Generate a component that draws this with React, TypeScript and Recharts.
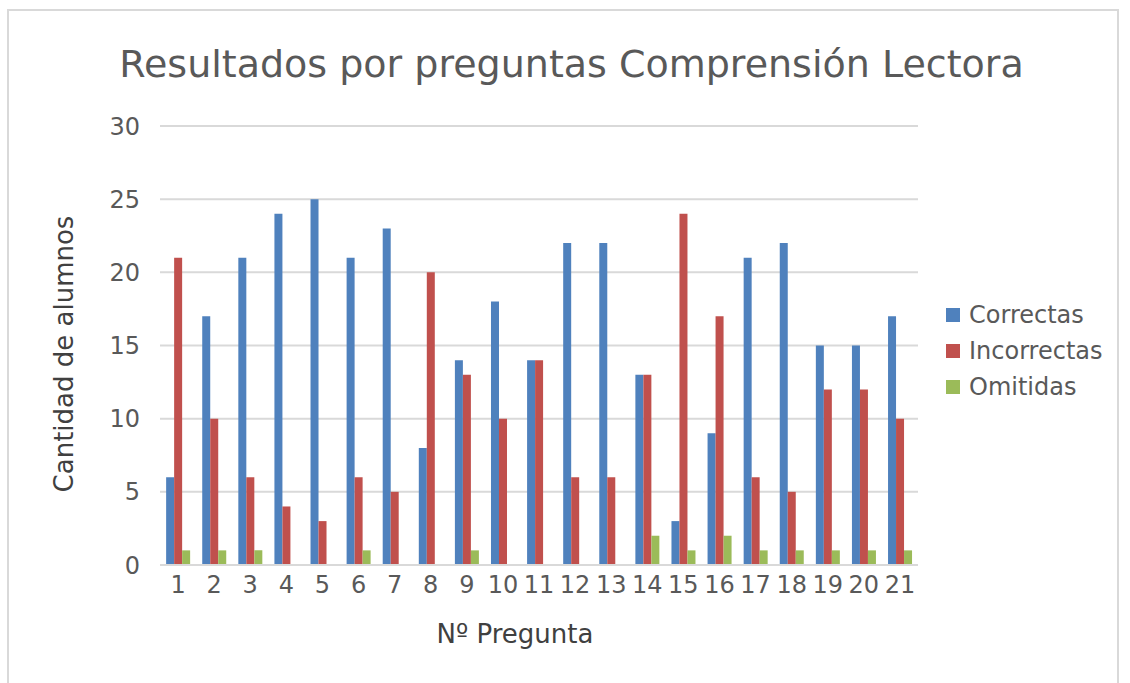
import React from 'react';
import { BarChart, Bar, XAxis, YAxis, CartesianGrid, Legend } from 'recharts';

const preguntas = ['1', '2', '3', '4', '5', '6', '7', '8', '9', '10', '11', '12', '13', '14', '15', '16', '17', '18', '19', '20', '21'];
const correctas = [6, 17, 21, 24, 25, 21, 23, 8, 14, 18, 14, 22, 22, 13, 3, 9, 21, 22, 15, 15, 17];
const incorrectas = [21, 10, 6, 4, 3, 6, 5, 20, 13, 10, 14, 6, 6, 13, 24, 17, 6, 5, 12, 12, 10];
const omitidas = [1, 1, 1, 0, 0, 1, 0, 0, 1, 0, 0, 0, 0, 2, 1, 2, 1, 1, 1, 1, 1];
const yTicks = [0, 5, 10, 15, 20, 25, 30];

const series = [
  { key: 'correctas', name: 'Correctas', color: '#4f81bd' },
  { key: 'incorrectas', name: 'Incorrectas', color: '#c0504d' },
  { key: 'omitidas', name: 'Omitidas', color: '#9bbb59' },
];

const FONT = '"DejaVu Sans", sans-serif';

export default function App() {
  const data = preguntas.map((p, i) => ({
    pregunta: p,
    correctas: correctas[i],
    incorrectas: incorrectas[i],
    omitidas: omitidas[i],
  }));

  // legend on the right, squares + names
  const renderLegend = () => (
    <div style={{ fontFamily: FONT }}>
      {series.map((s) => (
        <div key={s.key} style={{ display: 'flex', alignItems: 'center', height: 36 }}>
          <span style={{ width: 14, height: 14, background: s.color, marginRight: 9, display: 'inline-block' }} />
          <span style={{ fontSize: 24, color: '#595959' }}>{s.name}</span>
        </div>
      ))}
    </div>
  );

  return (
    <div style={{ position: 'absolute', left: 0, top: 0, width: 1130, height: 683, background: '#fff', overflow: 'hidden', fontFamily: FONT }}>
      <div style={{ position: 'absolute', left: 7, top: 9, width: 1112, height: 700, border: '2px solid #d9d9d9', boxSizing: 'border-box' }} />
      <div style={{ position: 'absolute', left: 0, top: 42, width: 1143, textAlign: 'center', fontSize: 38, color: '#595959' }}>
        Resultados por preguntas Comprensión Lectora
      </div>
      <div style={{ position: 'absolute', left: 0, top: 619, width: 1030, textAlign: 'center', fontSize: 26, color: '#404040' }}>
        Nº Pregunta
      </div>
      <div
        style={{
          position: 'absolute',
          left: 64,
          top: 354,
          transform: 'translate(-50%, -50%) rotate(-90deg)',
          whiteSpace: 'nowrap',
          fontSize: 26,
          color: '#404040',
        }}
      >
        Cantidad de alumnos
      </div>
      <BarChart
        width={1130}
        height={683}
        data={data}
        margin={{ top: 126, right: 212, bottom: 78, left: 100 }}
        barCategoryGap="17%"
        barGap={0}
        style={{ position: 'absolute', left: 0, top: 0 }}
      >
        <CartesianGrid vertical={false} stroke="#d9d9d9" strokeWidth={2} />
        <XAxis
          dataKey="pregunta"
          height={40}
          tickLine={false}
          axisLine={{ stroke: '#d9d9d9', strokeWidth: 2 }}
          tick={{ fontSize: 24, fill: '#595959', fontFamily: FONT }}
          tickMargin={5}
          interval={0}
        />
        <YAxis
          width={60}
          domain={[0, 30]}
          ticks={yTicks}
          tickLine={false}
          axisLine={false}
          tick={{ fontSize: 24, fill: '#595959', fontFamily: FONT }}
          tickMargin={14}
        />
        <Legend
          layout="horizontal"
          verticalAlign="top"
          align="left"
          content={renderLegend}
          wrapperStyle={{ left: 946, top: 297, width: 180, height: 0 }}
        />
        {series.map((s) => (
          <Bar key={s.key} dataKey={s.key} name={s.name} fill={s.color} isAnimationActive={false} />
        ))}
      </BarChart>
    </div>
  );
}
